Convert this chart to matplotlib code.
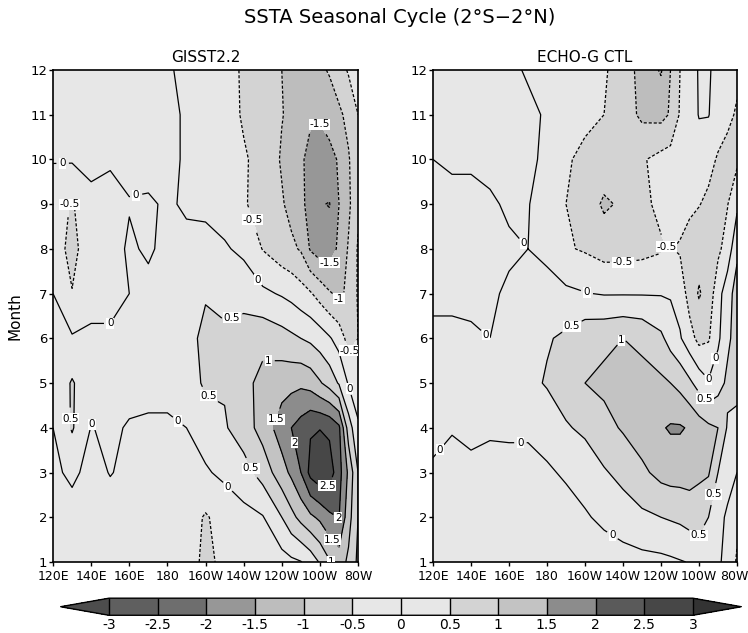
import numpy as np
import matplotlib
matplotlib.use("Agg")
import matplotlib.pyplot as plt
import matplotlib.transforms as mtransforms
from matplotlib.colors import ListedColormap, BoundaryNorm

plt.rcParams['font.family'] = ['DejaVu Sans']

# longitude (deg E) and month axes of the gridded fields
lons = [120, 130, 140, 150, 160, 170, 180, 190, 200, 210, 220, 230, 240,
        245, 250, 255, 260, 265, 270, 275, 280]
months = list(range(1, 13))

# GISST2.2 SST anomaly, rows = months 1..12
gisst = [
    [-0.2, -0.15, -0.2, -0.1, -0.15, -0.2, -0.25, -0.3, -0.6, -0.4, -0.35, -0.3, -0.2, -0.1, -0.02, 0.2, 0.55, 0.95, 1.25, 0.9, 0.4],
    [-0.2, -0.2, -0.25, -0.2, -0.2, -0.2, -0.2, -0.25, -0.55, -0.3, -0.15, -0.03, 0.5, 0.85, 1.15, 1.4, 1.6, 1.9, 2.02, 1.2, 0.5],
    [-0.1, 0.1, -0.15, 0.02, -0.1, -0.15, -0.15, -0.15, -0.05, 0.1, 0.3, 0.7, 1.3, 1.6, 2.0, 2.65, 2.9, 2.75, 2.2, 1.4, 0.5],
    [0.0, 0.55, -0.02, 0.1, -0.05, -0.05, -0.05, 0.0, 0.2, 0.45, 0.75, 1.2, 1.75, 2.0, 2.2, 2.45, 2.48, 2.4, 2.1, 0.75, 0.1],
    [0.1, 0.55, 0.15, 0.15, 0.2, 0.1, 0.1, 0.2, 0.6, 0.55, 0.85, 1.15, 1.3, 1.35, 1.4, 1.3, 1.05, 0.8, 0.45, -0.05, -0.4],
    [0.05, 0.05, 0.05, 0.05, 0.1, 0.15, 0.2, 0.3, 0.65, 0.6, 0.75, 0.85, 0.7, 0.6, 0.5, 0.4, 0.25, 0.05, -0.2, -0.7, -0.5],
    [0.0, -0.48, -0.1, -0.1, 0.0, 0.1, 0.15, 0.2, 0.45, 0.35, 0.3, 0.1, -0.05, -0.15, -0.3, -0.45, -0.7, -0.95, -1.1, -0.9, -0.45],
    [-0.25, -0.65, -0.2, -0.15, 0.05, -0.05, 0.1, 0.1, 0.15, 0.05, -0.1, -0.52, -0.8, -0.9, -1.05, -1.55, -1.75, -1.75, -1.4, -0.95, -0.45],
    [-0.2, -0.55, -0.1, -0.15, -0.02, -0.05, 0.05, -0.05, -0.1, -0.2, -0.45, -0.7, -0.95, -1.15, -1.4, -1.65, -1.97, -2.02, -1.5, -1.1, -0.6],
    [0.02, 0.05, 0.1, 0.05, 0.1, 0.15, 0.1, -0.05, -0.15, -0.25, -0.45, -0.65, -1.05, -1.2, -1.45, -1.6, -1.7, -1.65, -1.45, -1.05, -0.6],
    [0.1, 0.15, 0.15, 0.15, 0.15, 0.15, 0.1, -0.05, -0.2, -0.3, -0.55, -0.75, -0.98, -1.1, -1.3, -1.45, -1.45, -1.3, -1.1, -0.85, -0.5],
    [0.1, 0.05, 0.05, 0.05, 0.05, 0.05, 0.05, -0.1, -0.2, -0.35, -0.55, -0.8, -1.0, -1.1, -1.2, -1.2, -1.1, -0.95, -0.7, -0.45, -0.35],
]

# ECHO-G CTL SST anomaly
echog = [
    [-0.2, -0.25, -0.3, -0.3, -0.3, -0.3, -0.3, -0.3, -0.3, -0.25, -0.2, -0.15, -0.12, -0.08, -0.03, 0.02, 0.2, 0.25, 0.1, -0.2, -0.55],
    [-0.15, -0.2, -0.2, -0.2, -0.2, -0.2, -0.2, -0.15, -0.05, 0.1, 0.25, 0.4, 0.5, 0.55, 0.6, 0.7, 0.7, 0.5, 0.2, -0.1, -0.4],
    [-0.05, -0.1, -0.05, -0.05, -0.1, -0.1, -0.05, 0.05, 0.2, 0.45, 0.65, 0.9, 1.15, 1.2, 1.2, 1.2, 1.1, 1.05, 0.5, 0.25, 0.0],
    [0.1, 0.02, 0.05, 0.02, 0.05, 0.05, 0.15, 0.45, 0.6, 0.85, 1.05, 1.25, 1.45, 1.55, 1.55, 1.45, 1.25, 1.1, 1.0, 0.45, 0.3],
    [0.15, 0.15, 0.15, 0.15, 0.2, 0.35, 0.55, 0.75, 1.0, 1.1, 1.15, 1.15, 1.1, 1.0, 0.85, 0.6, 0.3, 0.05, 0.3, 0.6, 0.7],
    [0.05, 0.05, 0.03, 0.0, 0.1, 0.2, 0.45, 0.6, 0.85, 0.9, 1.0, 0.9, 0.6, 0.3, 0.05, -0.3, -0.65, -0.55, -0.1, 0.4, 0.7],
    [-0.05, -0.05, -0.05, -0.05, 0.05, 0.1, 0.15, 0.1, 0.02, -0.03, -0.03, -0.03, -0.03, -0.05, -0.2, -0.7, -1.05, -0.8, -0.2, 0.3, 0.7],
    [-0.2, -0.2, -0.2, -0.15, -0.05, 0.0, -0.1, -0.45, -0.55, -0.7, -0.7, -0.65, -0.55, -0.48, -0.55, -0.7, -0.8, -0.75, -0.6, -0.3, 0.4],
    [-0.1, -0.1, -0.1, -0.05, 0.05, 0.02, -0.2, -0.5, -0.7, -1.08, -0.92, -0.6, -0.4, -0.3, -0.3, -0.4, -0.48, -0.6, -0.6, -0.52, -0.1],
    [0.0, 0.05, 0.05, 0.1, 0.15, 0.1, -0.1, -0.45, -0.6, -0.7, -0.85, -0.55, -0.35, -0.3, -0.2, -0.15, -0.2, -0.35, -0.55, -0.65, -0.6],
    [0.1, 0.15, 0.2, 0.2, 0.2, 0.1, -0.05, -0.25, -0.4, -0.5, -0.75, -1.1, -1.15, -0.95, -0.45, -0.2, 0.02, 0.02, -0.25, -0.4, -0.55],
    [0.15, 0.15, 0.15, 0.15, 0.1, -0.05, -0.15, -0.25, -0.35, -0.45, -0.7, -1.2, -1.55, -1.0, -0.5, -0.3, 0.05, 0.05, -0.15, -0.3, -0.4],
]

levels = [-3, -2.5, -2, -1.5, -1, -0.5, 0, 0.5, 1, 1.5, 2, 2.5, 3]
lon_ticks = [120, 140, 160, 180, 200, 220, 240, 260, 280]
lon_labels = ['120E', '140E', '160E', '180', '160W', '140W', '120W', '100W', '80W']

shades = ['#5f5f5f', '#6e6e6e', '#979797', '#bdbdbd', '#d3d3d3', '#e7e7e7',
          '#e7e7e7', '#d3d3d3', '#c3c3c3', '#8c8c8c', '#5a5a5a', '#474747']
cmap = ListedColormap(shades)
cmap.set_under('#4d4d4d')
cmap.set_over('#333333')
norm = BoundaryNorm(levels, cmap.N)

# where the inline contour labels sit (lon, month)
gisst_labels = [(258, 10.9), (265, 7.5), (271, 6.8), (221, 8.6), (276, 5.7),
                (274, 4.85), (213, 6.55), (233, 5.7), (204, 4.9), (233, 4.25),
                (250, 3.7), (224, 3.1), (264, 2.6), (269, 1.95), (268, 1.55),
                (269, 1.1), (212, 2.7), (190, 4.4), (145, 4.2), (125, 10.0),
                (124, 9.1), (154, 6.2), (164, 9.1), (229, 7.35), (127, 4.2)]
echog_labels = [(166, 8.07), (201, 7.03), (220, 7.7), (244, 8.07), (192, 6.35),
                (218, 6.0), (146, 6.0), (265, 5.6), (263, 5.0), (262, 4.6),
                (124, 3.5), (166, 3.8), (216, 1.7), (264, 2.55), (262, 1.5)]

fig = plt.figure(figsize=(7.48, 6.33), dpi=100)
ax1 = fig.add_axes([0.0709, 0.1122, 0.4078, 0.7773])
ax2 = fig.add_axes([0.5789, 0.1122, 0.4064, 0.7773])

X, Y = np.meshgrid(lons, months)
for ax, field, name, labpos in [(ax1, gisst, 'GISST2.2', gisst_labels),
                                (ax2, echog, 'ECHO-G CTL', echog_labels)]:
    Z = np.array(field)
    cf = ax.contourf(X, Y, Z, levels=levels, cmap=cmap, norm=norm, extend='both')
    cs = ax.contour(X, Y, Z, levels=levels, colors='k', linewidths=0.9)
    cs.set_linestyles([(0, (2.5, 1.5)) if lv < 0 else '-' for lv in cs.levels])
    txts = ax.clabel(cs, fmt='%g', fontsize=7.5, inline=True, inline_spacing=3,
                     manual=labpos)
    for t in txts:
        t.set_rotation(0)
        t.set_bbox(dict(facecolor='white', edgecolor='none', pad=0.4))
    ax.set_xlim(120, 280)
    ax.set_ylim(1, 12)
    ax.set_xticks(lon_ticks)
    ax.set_xticklabels(lon_labels)
    ax.set_yticks(months)
    ax.tick_params(direction='out', length=3, width=1, labelsize=9.5, pad=1)
    ax.tick_params(axis='x', labelsize=9, pad=3)
    for sp in ax.spines.values():
        sp.set_linewidth(1.2)
    ax.set_title(name, fontsize=11, pad=6)

# keep the last longitude label inside the canvas
last = ax2.get_xticklabels()[-1]
last.set_transform(last.get_transform() +
                   mtransforms.ScaledTranslation(-0.03, 0, fig.dpi_scale_trans))

ax1.set_ylabel('Month', fontsize=11, labelpad=6)

fig.text(0.535, 0.972, 'SSTA Seasonal Cycle (2°S\u22122°N)', ha='center', va='center',
         fontsize=14)

cax = fig.add_axes([0.081, 0.028, 0.910, 0.027])
cb = fig.colorbar(cf, cax=cax, orientation='horizontal', drawedges=True,
                  extendfrac=0.083, ticks=levels)
cb.ax.set_xticklabels(['%g' % v for v in levels])
cb.ax.tick_params(length=0, labelsize=10, pad=2)
cb.outline.set_linewidth(1.0)
cb.dividers.set_linewidth(1.0)

fig.savefig('out.png', dpi=100)
